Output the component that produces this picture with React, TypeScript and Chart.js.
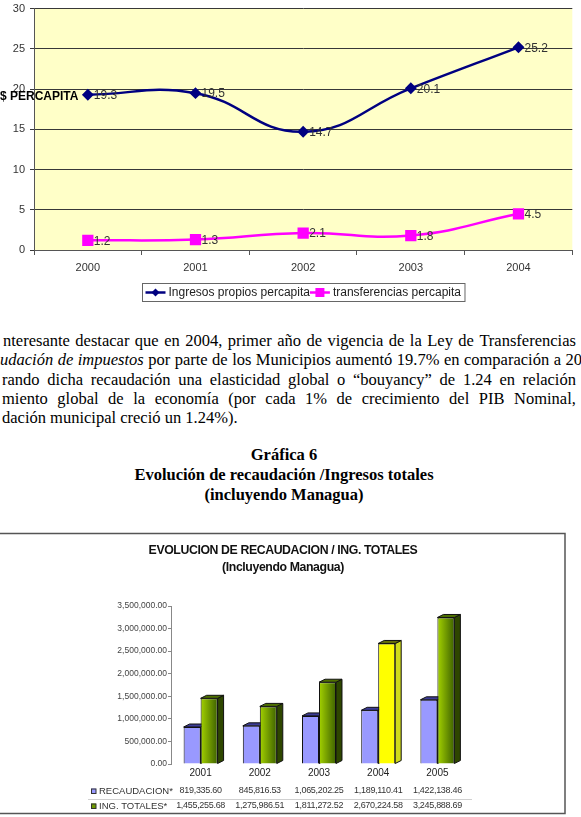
import React, { useEffect, useRef } from "react";
import { Chart, registerables } from "chart.js";

Chart.register(...registerables);

// ---------- data: top line chart ----------
const years = ["2000", "2001", "2002", "2003", "2004"];
const ingresosPropios = [19.3, 19.5, 14.7, 20.1, 25.2];
const transferencias = [1.2, 1.3, 2.1, 1.8, 4.5];
const lineSeriesLabels = ["Ingresos propios percapita", "transferencias percapita"];
const lineYMax = 30;
const lineYStep = 5;
const lineYTitle = "$ PERCAPITA";

// ---------- data: bottom bar chart ----------
const barYears = ["2001", "2002", "2003", "2004", "2005"];
const recaudacion = [819335.6, 845816.53, 1065202.25, 1189110.41, 1422138.46];
const ingTotales = [1455255.68, 1275986.51, 1811272.52, 2670224.58, 3245888.69];
const barSeriesLabels = ["RECAUDACION*", "ING. TOTALES*"];
const barYMax = 3500000;
const barYStep = 500000;
const highlightedYear = "2004";
const barTitle = ["EVOLUCION DE RECAUDACION / ING. TOTALES", "(Incluyendo Managua)"];

// ---------- text ----------
type Word = { t: string; i?: boolean };
const paragraphLines: Word[][] = [
  "nteresante destacar que en 2004, primer año de vigencia de la Ley de Transferencias".split(" ").map((t) => ({ t })),
  [
    ...["udación", "de", "impuestos"].map((t) => ({ t, i: true })),
    ..."por parte de los Municipios aumentó 19.7% en comparación a 20".split(" ").map((t) => ({ t })),
  ],
  "rando dicha recaudación una elasticidad global o “bouyancy” de 1.24 en relación".split(" ").map((t) => ({ t })),
  "miento global de la economía (por cada 1% de crecimiento del PIB Nominal,".split(" ").map((t) => ({ t })),
];
const lastLine = "dación municipal creció un 1.24%).";
const headings = ["Gráfica 6", "Evolución de recaudación /Ingresos totales", "(incluyendo Managua)"];

const SANS = '"Liberation Sans", Arial, sans-serif';
const SERIF = '"Liberation Serif", "Times New Roman", serif';

const fmt2 = (v: number) =>
  v.toLocaleString("en-US", { minimumFractionDigits: 2, maximumFractionDigits: 2 });

function LineChart() {
  const ref = useRef<HTMLCanvasElement | null>(null);
  useEffect(() => {
    if (!ref.current) return;
    const plotBg = {
      id: "plotBg",
      beforeDraw(chart: any) {
        const { ctx, chartArea: a } = chart;
        ctx.save();
        ctx.fillStyle = "#FFFFC8";
        ctx.fillRect(a.left, a.top, a.right - a.left, a.bottom - a.top);
        ctx.restore();
      },
    };
    const valueLabels = {
      id: "valueLabels",
      afterDatasetsDraw(chart: any) {
        const { ctx } = chart;
        ctx.save();
        ctx.font = `12px ${SANS}`;
        ctx.fillStyle = "#333";
        ctx.textAlign = "left";
        ctx.textBaseline = "middle";
        chart.data.datasets.forEach((ds: any, i: number) => {
          const meta = chart.getDatasetMeta(i);
          meta.data.forEach((pt: any, j: number) => {
            ctx.fillText(Number(ds.data[j]).toFixed(1), pt.x + 6, pt.y + 1);
          });
        });
        ctx.restore();
      },
    };
    const customLegend = {
      id: "customLegend",
      afterDraw(chart: any) {
        const { ctx, chartArea: a } = chart;
        ctx.save();
        ctx.font = `12px ${SANS}`;
        const sample = 20;
        const gap = 3;
        const pad = 3.5;
        const items = chart.data.datasets.map((ds: any) => ({
          ds,
          w: sample + gap + ctx.measureText(ds.label).width,
        }));
        const total = items.reduce((s: number, it: any) => s + it.w, 0) + pad * 2;
        const x0 = Math.round((a.left + a.right) / 2 - total / 2);
        const y0 = 283;
        const h = 18;
        ctx.fillStyle = "#fff";
        ctx.fillRect(x0, y0, total, h);
        ctx.strokeStyle = "#666";
        ctx.lineWidth = 1;
        ctx.strokeRect(x0 + 0.5, y0 + 0.5, total, h);
        let x = x0 + pad;
        const cy = y0 + h / 2 + 0.5;
        items.forEach((it: any) => {
          const ds = it.ds;
          ctx.strokeStyle = ds.borderColor;
          ctx.lineWidth = 2.5;
          ctx.beginPath();
          ctx.moveTo(x, cy);
          ctx.lineTo(x + sample, cy);
          ctx.stroke();
          ctx.fillStyle = ds.borderColor;
          const mx = x + sample / 2;
          if (ds.pointStyle === "rect") {
            ctx.fillRect(mx - 4.5, cy - 4.5, 9, 9);
          } else {
            ctx.beginPath();
            ctx.moveTo(mx, cy - 4);
            ctx.lineTo(mx + 4, cy);
            ctx.lineTo(mx, cy + 4);
            ctx.lineTo(mx - 4, cy);
            ctx.closePath();
            ctx.fill();
          }
          ctx.fillStyle = "#222";
          ctx.textBaseline = "middle";
          ctx.textAlign = "left";
          ctx.fillText(ds.label, x + sample + gap, cy + 0.5);
          x += it.w;
        });
        ctx.restore();
      },
    };
    const yTitle = {
      id: "yTitle",
      afterDraw(chart: any) {
        const { ctx } = chart;
        ctx.save();
        ctx.font = `bold 12px ${SANS}`;
        ctx.fillStyle = "#000";
        ctx.textAlign = "left";
        ctx.textBaseline = "middle";
        ctx.fillText(lineYTitle, 0, 97);
        ctx.restore();
      },
    };

    const chart = new Chart(ref.current, {
      type: "line",
      data: {
        labels: years,
        datasets: [
          {
            label: lineSeriesLabels[0],
            data: ingresosPropios,
            borderColor: "#000080",
            backgroundColor: "#000080",
            pointBackgroundColor: "#000080",
            pointBorderColor: "#000080",
            borderWidth: 2.5,
            pointStyle: "rectRot",
            pointRadius: 4.2,
            tension: 0.45,
            fill: false,
          } as any,
          {
            label: lineSeriesLabels[1],
            data: transferencias,
            borderColor: "#FF00FF",
            backgroundColor: "#FF00FF",
            pointBackgroundColor: "#FF00FF",
            pointBorderColor: "#FF00FF",
            borderWidth: 2.5,
            pointStyle: "rect",
            pointRadius: 6.2,
            tension: 0.45,
            fill: false,
          } as any,
        ],
      },
      options: {
        responsive: false,
        animation: false,
        layout: { padding: { top: 6, right: 3, left: 0, bottom: 0 } },
        plugins: { legend: { display: false }, tooltip: { enabled: false } },
        scales: {
          x: {
            offset: true,
            grid: { offset: true, drawOnChartArea: false, drawTicks: true, tickLength: 5, color: "#555" },
            border: { color: "#555" },
            ticks: { color: "#333", font: { family: SANS, size: 11 }, padding: 6 },
            afterFit: (s: any) => {
              s.height = 60;
              s.paddingLeft = 0;
              s.paddingRight = 0;
            },
          },
          y: {
            min: 0,
            max: lineYMax,
            ticks: { stepSize: lineYStep, color: "#333", font: { family: SANS, size: 11 }, padding: 5 },
            grid: { color: "#383838", tickLength: 4 },
            border: { color: "#555" },
            afterFit: (s: any) => {
              s.width = 34;
              s.paddingTop = 0;
              s.paddingBottom = 0;
            },
          },
        },
      } as any,
      plugins: [plotBg, valueLabels, customLegend, yTitle],
    });
    return () => chart.destroy();
  }, []);
  return (
    <canvas
      ref={ref}
      width={581}
      height={310}
      style={{ position: "absolute", left: 0, top: 0, width: 581, height: 310, display: "block" }}
    />
  );
}

function BarChart() {
  const ref = useRef<HTMLCanvasElement | null>(null);
  useEffect(() => {
    if (!ref.current) return;
    const catPct = 0.574;
    const dx = 6;
    const dy = 3;

    const faceColors = (di: number, idx: number) => {
      if (di === 0) return { side: "#5858B8", top: "#3C3C96" };
      if (barYears[idx] === highlightedYear) return { side: "#CFDB1A", top: "#66700A" };
      return { side: "#2E4600", top: "#4E7000" };
    };

    const bar3d = {
      id: "bar3d",
      beforeDatasetsDraw(chart: any) {
        const { ctx } = chart;
        ctx.save();
        ctx.lineWidth = 1;
        ctx.strokeStyle = "#111";
        chart.data.datasets.forEach((_ds: any, di: number) => {
          const meta = chart.getDatasetMeta(di);
          meta.data.forEach((el: any, idx: number) => {
            const { x, y, base, width } = el.getProps(["x", "y", "base", "width"], true);
            const l = x - width / 2;
            const r = x + width / 2;
            const c = faceColors(di, idx);
            ctx.fillStyle = c.side;
            ctx.beginPath();
            ctx.moveTo(r, y);
            ctx.lineTo(r + dx, y - dy);
            ctx.lineTo(r + dx, base - dy);
            ctx.lineTo(r, base);
            ctx.closePath();
            ctx.fill();
            ctx.stroke();
            ctx.fillStyle = c.top;
            ctx.beginPath();
            ctx.moveTo(l, y);
            ctx.lineTo(l + dx, y - dy);
            ctx.lineTo(r + dx, y - dy);
            ctx.lineTo(r, y);
            ctx.closePath();
            ctx.fill();
            ctx.stroke();
          });
        });
        ctx.restore();
      },
    };

    const frameTitle = {
      id: "frameTitle",
      afterDraw(chart: any) {
        const { ctx } = chart;
        ctx.save();
        ctx.strokeStyle = "#555";
        ctx.lineWidth = 1.5;
        ctx.strokeRect(-2, 13.5, 567, 280);
        ctx.font = `bold 12.3px ${SANS}`;
        (ctx as any).letterSpacing = "-0.4px";
        ctx.fillStyle = "#111";
        ctx.textAlign = "center";
        ctx.textBaseline = "middle";
        ctx.fillText(barTitle[0], 283, 31);
        ctx.fillText(barTitle[1], 283, 48);
        ctx.restore();
      },
    };

    const dataTable = {
      id: "dataTable",
      afterDraw(chart: any) {
        const { ctx } = chart;
        const xs = chart.scales.x;
        const rows = [recaudacion, ingTotales];
        const rowY = [271, 286];
        const swatch = ["#9999FF", "#6E9A00"];
        ctx.save();
        ctx.strokeStyle = "#d0d0d0";
        ctx.lineWidth = 1;
        ctx.beginPath();
        ctx.moveTo(88, 279.5);
        ctx.lineTo(472, 279.5);
        ctx.stroke();
        ctx.textBaseline = "middle";
        rows.forEach((vals, r) => {
          const y = rowY[r];
          ctx.fillStyle = swatch[r];
          ctx.fillRect(91, y - 2.5, 5, 5);
          ctx.strokeStyle = "#333";
          ctx.strokeRect(91.5, y - 2, 4.5, 4.5);
          ctx.fillStyle = "#333";
          ctx.textAlign = "left";
          ctx.font = `9.5px ${SANS}`;
          (ctx as any).letterSpacing = "0px";
          ctx.fillText(barSeriesLabels[r], 99, y);
          ctx.textAlign = "center";
          ctx.font = `9px ${SANS}`;
          (ctx as any).letterSpacing = "-0.3px";
          vals.forEach((v, i) => {
            ctx.fillText(fmt2(v), xs.getPixelForValue(i), y);
          });
        });
        ctx.restore();
      },
    };

    const chart = new Chart(ref.current, {
      type: "bar",
      data: {
        labels: barYears,
        datasets: [
          {
            label: barSeriesLabels[0],
            data: recaudacion,
            backgroundColor: "#9999FF",
            borderColor: "#111",
            borderWidth: 1,
          },
          {
            label: barSeriesLabels[1],
            data: ingTotales,
            backgroundColor: (c: any) => {
              const i = c.dataIndex;
              if (barYears[i] === highlightedYear) return "#FFFF00";
              const xs = c.chart.scales?.x;
              if (!xs || i === undefined || !xs.width) return "#76A400";
              const center = xs.getPixelForValue(i);
              const w = (xs.width / barYears.length) * catPct / 2;
              const g = c.chart.ctx.createLinearGradient(center, 0, center + w, 0);
              g.addColorStop(0, "#A4D200");
              g.addColorStop(1, "#3E6200");
              return g;
            },
            borderColor: "#111",
            borderWidth: 1,
          },
        ],
      },
      options: {
        responsive: false,
        animation: false,
        layout: { padding: { top: 86, right: 114, left: 0, bottom: 0 } },
        datasets: { bar: { categoryPercentage: catPct, barPercentage: 1 } },
        plugins: { legend: { display: false }, tooltip: { enabled: false } },
        scales: {
          x: {
            grid: { display: false, drawTicks: false },
            border: { display: false },
            ticks: { color: "#222", font: { family: SANS, size: 10 }, padding: 3 },
            afterFit: (s: any) => {
              s.height = 53;
            },
          },
          y: {
            min: 0,
            max: barYMax,
            ticks: {
              stepSize: barYStep,
              color: "#444",
              font: { family: SANS, size: 8.5 },
              padding: 1,
              callback: (v: any) => fmt2(Number(v)),
            },
            grid: { drawOnChartArea: false, tickLength: 3, color: "#888" },
            border: { color: "#888" },
            afterFit: (s: any) => {
              s.width = 171;
            },
          },
        },
      } as any,
      plugins: [bar3d, frameTitle, dataTable],
    });
    return () => chart.destroy();
  }, []);
  return (
    <canvas
      ref={ref}
      width={581}
      height={297}
      style={{ position: "absolute", left: 0, top: 520, width: 581, height: 297, display: "block" }}
    />
  );
}

export default function App() {
  const fontSize = 16.5;
  const lineTop0 = 331;
  const lineGap = 19.25;
  const lineWidths = [576, 582, 576, 576];
  const lineLefts = [3, 0, 2, 2];
  return (
    <div
      style={{
        position: "absolute",
        left: 0,
        top: 0,
        width: 581,
        height: 817,
        overflow: "hidden",
        background: "#fff",
      }}
    >
      <LineChart />
      {paragraphLines.map((words, li) => (
        <div
          key={li}
          style={{
            position: "absolute",
            left: lineLefts[li],
            top: lineTop0 + li * lineGap,
            width: lineWidths[li] - lineLefts[li],
            display: "flex",
            justifyContent: "space-between",
            whiteSpace: "nowrap",
            fontFamily: SERIF,
            fontSize,
            lineHeight: "19px",
            color: "#000",
          }}
        >
          {words.map((w, wi) => (
            <span key={wi} style={{ fontStyle: w.i ? "italic" : "normal", flexShrink: 0 }}>
              {w.t}
            </span>
          ))}
        </div>
      ))}
      <div
        style={{
          position: "absolute",
          left: 2,
          top: lineTop0 + 4 * lineGap,
          whiteSpace: "nowrap",
          fontFamily: SERIF,
          fontSize,
          lineHeight: "19px",
          color: "#000",
        }}
      >
        {lastLine}
      </div>
      {headings.map((h, i) => (
        <div
          key={i}
          style={{
            position: "absolute",
            left: 0,
            width: 568,
            top: 445 + i * 20,
            textAlign: "center",
            fontFamily: SERIF,
            fontWeight: "bold",
            fontSize,
            lineHeight: "19px",
            whiteSpace: "nowrap",
            color: "#000",
          }}
        >
          {h}
        </div>
      ))}
      <BarChart />
    </div>
  );
}
